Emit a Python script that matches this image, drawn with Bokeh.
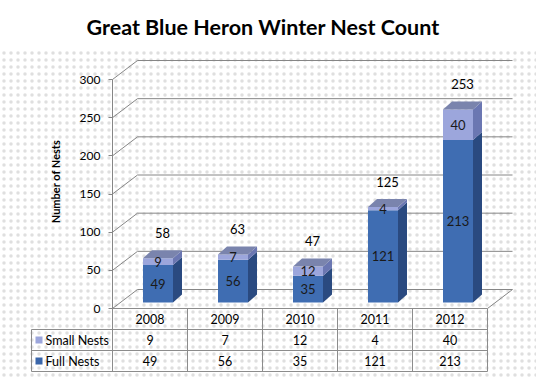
import math
from bokeh.plotting import figure
from bokeh.models import FixedTicker, Range1d
from bokeh.core.properties import value
from bokeh.embed import file_html
from bokeh.resources import INLINE

# ---- data ----
years = ["2008", "2009", "2010", "2011", "2012"]
small_nests = [9, 7, 12, 4, 40]
full_nests = [49, 56, 35, 121, 213]
y_ticks = [0, 50, 100, 150, 200, 250, 300]
series_names = ["Small Nests", "Full Nests"]
totals = [f + s for f, s in zip(full_nests, small_nests)]

# ---- layout constants ----
W, H = 536, 380
TOP = 50
PX_X = 75.0
PX_Y = 229.0 / 300.0
X0_REF, Y0_REF = 112.0, 308.0


def xd(ref):
    return (ref - X0_REF) / PX_X - 0.5


def yd(ref):
    return (Y0_REF - ref) / PX_Y


DX, DY = 25.0 / PX_X, 19.0 / PX_Y          # wall depth
FX, FY = 8.0 / PX_X, 6.0 / PX_Y            # bar front offset
BW = 30.0 / PX_X                           # bar width
BDX, BDY = 9.0 / PX_X, 8.0 / PX_Y          # bar depth
ROW = 21.0 / PX_Y
LEG_L = xd(31)
n = len(years)
xs_idx = list(range(n))

p = figure(width=W, height=H, output_backend="svg", toolbar_location=None,
           x_range=Range1d(xd(0), xd(W)), y_range=Range1d(yd(H), yd(TOP)),
           x_axis_type=None, min_border_left=0, min_border_right=0,
           min_border_bottom=0, min_border_top=TOP,
           title="Great Blue Heron Winter Nest Count")
p.outline_line_color = None
p.grid.visible = False
p.background_fill_color = "white"
p.border_fill_color = "white"

p.title.text_font = "Lato"
p.title.text_font_style = "bold"
p.title.text_font_size = "21.5px"
p.title.align = "left"
p.title.offset = 86
p.title.text_color = "#000000"
p.title.standoff = 21

# dotted background
p.quad(left=[xd(-10)], right=[xd(W + 10)], bottom=[yd(H + 10)], top=[yd(0)],
       fill_color="white", line_color=None, hatch_pattern="dot",
       hatch_color="#c4c4c4", hatch_alpha=0.55, hatch_scale=7, hatch_weight=0.3)

# y axis
ax = p.yaxis[0]
ax.fixed_location = -0.5
ax.bounds = (0, 300)
ax.ticker = FixedTicker(ticks=y_ticks)
ax.minor_tick_line_color = None
ax.axis_line_color = "#868686"
ax.major_tick_line_color = "#868686"
ax.major_tick_in = 0
ax.major_tick_out = 4
ax.major_label_standoff = 8
ax.major_label_text_font = "Lato"
ax.major_label_text_font_size = "12px"
ax.major_label_text_color = "#000000"

font = value("Lato")
p.text(x=[xd(55)], y=[yd(181)], text=["Number of Nests"], angle=math.pi / 2,
       text_font=font, text_font_style="bold", text_font_size="11px",
       text_align="center", text_baseline="middle", text_color="#000000")

# back wall gridlines and side wall diagonals
grid_col = "#868686"
p.segment(x0=[-0.5 + DX] * len(y_ticks), y0=[v + DY for v in y_ticks],
          x1=[n - 0.5 + DX] * len(y_ticks), y1=[v + DY for v in y_ticks],
          line_color=grid_col, line_width=1)
p.segment(x0=[-0.5] * len(y_ticks), y0=y_ticks,
          x1=[-0.5 + DX] * len(y_ticks), y1=[v + DY for v in y_ticks],
          line_color=grid_col, line_width=1)
# floor right edge
p.segment(x0=[n - 0.5], y0=[0], x1=[n - 0.5 + DX], y1=[DY],
          line_color=grid_col, line_width=1)

# bars
full_front = "#3f6db2"
full_side = "#2a4a80"
small_front = "#9ca6dc"
small_side = "#6b77b2"
top_col = "#7a84ad"

xl = [i + FX - BW / 2 for i in xs_idx]
xr = [i + FX + BW / 2 for i in xs_idx]
b0 = [FY] * n
t1 = [FY + f for f in full_nests]
t2 = [FY + f + s for f, s in zip(full_nests, small_nests)]

p.quad(left=xl, right=xr, bottom=b0, top=t1, fill_color=full_front, line_color=None)
p.quad(left=xl, right=xr, bottom=t1, top=t2, fill_color=small_front, line_color=None)
p.patches(xs=[[r, r + BDX, r + BDX, r] for r in xr],
          ys=[[a, a + BDY, b + BDY, b] for a, b in zip(b0, t1)],
          fill_color=full_side, line_color=None)
p.patches(xs=[[r, r + BDX, r + BDX, r] for r in xr],
          ys=[[a, a + BDY, b + BDY, b] for a, b in zip(t1, t2)],
          fill_color=small_side, line_color=None)
p.patches(xs=[[l, r, r + BDX, l + BDX] for l, r in zip(xl, xr)],
          ys=[[t, t, t + BDY, t + BDY] for t in t2],
          fill_color=top_col, line_color=None)

# segment labels
p.text(x=[i + FX for i in xs_idx], y=[FY + f / 2 for f in full_nests],
       text=[str(v) for v in full_nests], text_font=font, text_font_size="13px",
       text_align="center", text_baseline="middle", text_color="#1a1a1a")
p.text(x=[i + FX for i in xs_idx], y=[FY + f + s / 2 for f, s in zip(full_nests, small_nests)],
       text=[str(v) for v in small_nests], text_font=font, text_font_size="13px",
       text_align="center", text_baseline="middle", text_color="#1a1a1a")
# totals
p.text(x=[i + FX + BDX / 2 for i in xs_idx], y=[FY + t + 33 for t in totals],
       text=[str(v) for v in totals], text_font=font, text_font_size="13px",
       text_align="center", text_baseline="middle", text_color="#000000")

# data table
tcol = "#8c8c8c"
hy = [0, -ROW, -2 * ROW, -3 * ROW]
p.segment(x0=[-0.5, LEG_L, LEG_L, LEG_L], y0=hy, x1=[n - 0.5] * 4, y1=hy,
          line_color=tcol, line_width=1)
vx = [LEG_L] + [i - 0.5 for i in range(n + 1)]
p.segment(x0=vx, y0=[-ROW] + [0] * (n + 1), x1=vx, y1=[-3 * ROW] * (n + 2),
          line_color=tcol, line_width=1)
p.text(x=xs_idx, y=[-ROW / 2] * n, text=years, text_font=font, text_font_size="12.5px",
       text_align="center", text_baseline="middle", text_color="#000000")
p.text(x=xs_idx, y=[-1.5 * ROW] * n, text=[str(v) for v in small_nests], text_font=font,
       text_font_size="12.5px", text_align="center", text_baseline="middle", text_color="#000000")
p.text(x=xs_idx, y=[-2.5 * ROW] * n, text=[str(v) for v in full_nests], text_font=font,
       text_font_size="12.5px", text_align="center", text_baseline="middle", text_color="#000000")
# legend keys
p.scatter(x=[xd(38.5)] * 2, y=[-1.5 * ROW, -2.5 * ROW], marker="square", size=7,
          fill_color=[small_front, "#3a66aa"], line_color=None)
p.text(x=[xd(45)] * 2, y=[-1.5 * ROW, -2.5 * ROW], text=series_names, text_font=font,
       text_font_size="12.5px", text_align="left", text_baseline="middle", text_color="#000000")

open("out.html", "w").write(file_html(p, INLINE))
